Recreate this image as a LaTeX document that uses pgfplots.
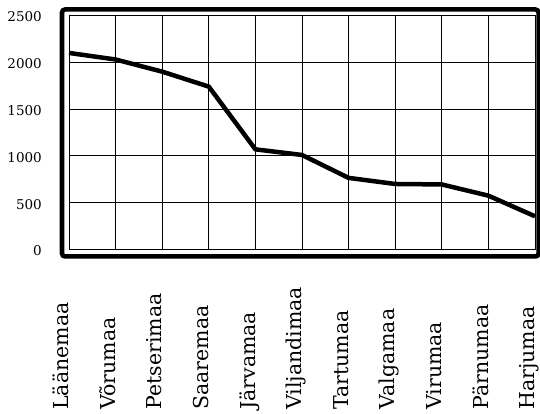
\documentclass[border=0pt]{standalone}
\usepackage{fontspec}
\setmainfont{DejaVu Serif}
\usepackage{pgfplots}
\pgfplotsset{compat=1.18}
\newcommand{\lab}[1]{\rotatebox{90}{\makebox[160pt][l]{\vphantom{Äj}#1}}}
\begin{document}
\begin{tikzpicture}
\begin{axis}[name=ax, width=466pt, height=234pt, scale only axis,
  xmin=0, xmax=10, ymin=0, ymax=2500,
  xtick={0,1,2,3,4,5,6,7,8,9,10},
  xticklabels={\lab{Läänemaa},\lab{Võrumaa},\lab{Petserimaa},\lab{Saaremaa},\lab{Järvamaa},\lab{Viljandimaa},\lab{Tartumaa},\lab{Valgamaa},\lab{Virumaa},\lab{Pärnumaa},\lab{Harjumaa}},
  ytick={0,500,1000,1500,2000,2500},
  major tick length=0pt,
  grid=major, grid style={black, line width=0.8pt},
  axis line style={black, line width=0.9pt},
  /pgf/number format/assume math mode=true,
  /pgf/number format/1000 sep={},
  yticklabel style={font=\fontsize{13.5}{16}\selectfont, anchor=east, inner sep=0pt, xshift=-27pt, yshift=-1.5pt},
  xticklabel style={anchor=north, inner sep=0pt, font=\fontsize{20.5}{24}\selectfont, xshift=-7.5pt},
  clip=false]
\addplot[black, line width=4.5pt, line join=round] coordinates {
(0,2100) (1,2030) (2,1900) (3,1740) (4,1070) (5,1010) (6,765) (7,700) (8,695) (9,575) (10,355)};
\end{axis}
\draw[line width=4.5pt, rounded corners=3pt] ([xshift=-7pt,yshift=-7pt]ax.south west) rectangle ([xshift=3.5pt,yshift=6pt]ax.north east);
\pgfresetboundingbox
\path ([xshift=-69pt,yshift=-164pt]ax.south west) rectangle ([xshift=5pt,yshift=15.5pt]ax.north east);
\end{tikzpicture}
\end{document}
